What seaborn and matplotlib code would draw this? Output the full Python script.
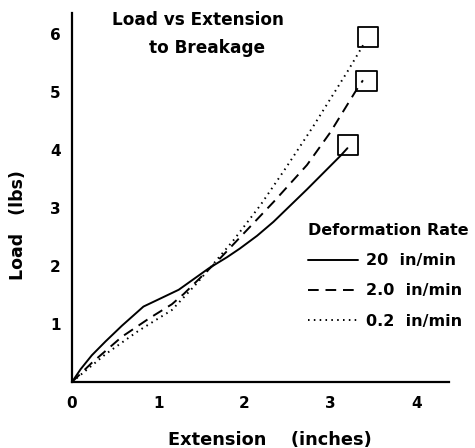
import matplotlib
matplotlib.use("Agg")
import matplotlib.pyplot as plt
import seaborn as sns
import pandas as pd

# ---- data ----
rates = ["20  in/min", "2.0  in/min", "0.2  in/min"]

ext_20 = [0.0, 0.10, 0.23, 0.39, 0.58, 0.83, 1.00, 1.24, 1.59, 1.80, 1.95, 2.15, 2.34, 2.73, 3.12, 3.20]
load_20 = [0.0, 0.22, 0.46, 0.70, 0.97, 1.30, 1.42, 1.59, 1.96, 2.15, 2.30, 2.52, 2.76, 3.32, 3.90, 4.03]

ext_2 = [0.0, 0.23, 0.58, 0.90, 1.16, 1.30, 1.72, 1.95, 2.34, 2.73, 3.00, 3.29, 3.38]
load_2 = [0.0, 0.33, 0.78, 1.10, 1.34, 1.52, 2.13, 2.49, 3.10, 3.74, 4.30, 5.00, 5.20]

ext_02 = [0.0, 0.39, 0.77, 1.16, 1.45, 1.88, 2.19, 2.48, 2.80, 3.20, 3.40]
load_02 = [0.0, 0.48, 0.88, 1.24, 1.70, 2.45, 3.05, 3.68, 4.40, 5.35, 5.85]

break_ext = [3.21, 3.42, 3.44]
break_load = [4.09, 5.19, 5.95]

x_ticks = [0, 1, 2, 3, 4]
y_ticks = [1, 2, 3, 4, 5, 6]

# ---- figure ----
sns.set_style("white")
plt.rcParams["font.family"] = ["DejaVu Sans"]
plt.rcParams["font.weight"] = "bold"
plt.rcParams["text.color"] = "black"
plt.rcParams["axes.labelcolor"] = "black"
plt.rcParams["xtick.color"] = "black"
plt.rcParams["ytick.color"] = "black"

W, H = 475, 448
fig = plt.figure(figsize=(W / 100, H / 100), dpi=100)
ax = fig.add_axes([72 / W, (H - 382) / H, (449 - 72) / W, (382 - 13) / H])

df = pd.concat([
    pd.DataFrame({"ext": ext_20, "load": load_20, "rate": rates[0]}),
    pd.DataFrame({"ext": ext_2, "load": load_2, "rate": rates[1]}),
    pd.DataFrame({"ext": ext_02, "load": load_02, "rate": rates[2]}),
], ignore_index=True)

styles = {rates[0]: "-", rates[1]: (0, (5.5, 3.5)), rates[2]: (0, (0.8, 2.2))}
handles = []
for r in rates:
    sub = df[df["rate"] == r]
    sns.lineplot(data=sub, x="ext", y="load", sort=False, estimator=None,
                 color="black", linewidth=1.4, ax=ax, legend=False)
    line = ax.lines[-1]
    line.set_linestyle(styles[r])
    line.set_solid_joinstyle("round")
    line.set_dash_joinstyle("round")
    handles.append(line)

sns.scatterplot(x=break_ext, y=break_load, marker="s", s=215,
                facecolor="none", edgecolor="black", linewidth=1.3,
                ax=ax, legend=False)

ax.set_xlim(0, 4.38)
ax.set_ylim(0, 6.36)
ax.set_xticks(x_ticks)
ax.set_yticks(y_ticks)
ax.set_xticklabels([str(t) for t in x_ticks], fontsize=11, fontweight="bold", color="black")
ax.set_yticklabels([str(t) for t in y_ticks], fontsize=11, fontweight="bold", color="black")
ax.tick_params(direction="in", length=6, width=1.4, pad=8, colors="black")
ax.tick_params(axis="x", pad=10)
for s in ["top", "right"]:
    ax.spines[s].set_visible(False)
for s in ["left", "bottom"]:
    ax.spines[s].set_linewidth(1.6)
    ax.spines[s].set_color("black")

ax.set_xlabel("")
ax.set_ylabel("")
fig.text(270 / W, 1 - 440 / H, "Extension    (inches)", ha="center", va="center",
         fontsize=12.8, fontweight="bold", color="black")
fig.text(18 / W, 1 - 225 / H, "Load   (lbs)", ha="center", va="center",
         rotation=90, fontsize=12.5, fontweight="bold", color="black")

fig.text(198 / W, 1 - 20 / H, "Load vs Extension", ha="center", va="center",
         fontsize=12.2, fontweight="bold", color="black")
fig.text(207 / W, 1 - 48 / H, "to Breakage", ha="center", va="center",
         fontsize=12.2, fontweight="bold", color="black")

leg = ax.legend(handles, rates, title="Deformation Rate", frameon=False,
                loc="upper left", bbox_to_anchor=(308 / W, 1 - 223 / H),
                bbox_transform=fig.transFigure, fontsize=11.5,
                title_fontproperties={"size": 11.5, "weight": "bold"},
                handlelength=3.1, handletextpad=0.55, labelspacing=0.95,
                alignment="left", borderaxespad=0, borderpad=0)
for t in leg.get_texts():
    t.set_fontweight("bold")
    t.set_color("black")
leg.get_title().set_color("black")

fig.savefig("out.png", dpi=100)
